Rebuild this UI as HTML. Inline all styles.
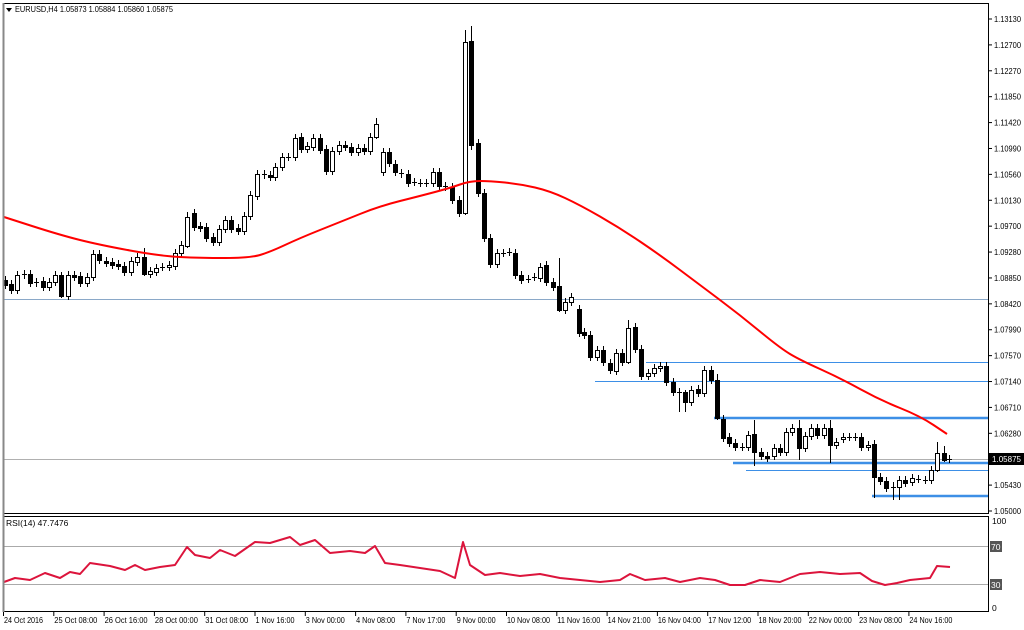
<!DOCTYPE html>
<html><head><meta charset="utf-8"><style>
html,body{margin:0;padding:0;background:#fff;width:1024px;height:630px;overflow:hidden}
svg{display:block;font-family:"Liberation Sans",sans-serif;font-size:8.5px}
</style></head><body>
<svg id="s" width="1024" height="630" viewBox="0 0 1024 630" xmlns="http://www.w3.org/2000/svg">
<rect width="1024" height="630" fill="#fff"/>
<g id="grid"></g>
<g id="c"></g>
<g id="ax"></g>
</svg>
<script>
var NS="http://www.w3.org/2000/svg";
function el(p,t,a,txt){var e=document.createElementNS(NS,t);for(var k in a)e.setAttribute(k,a[k]);if(txt!=null)e.textContent=txt;p.appendChild(e);return e;}
var G=document.getElementById('grid'),C=document.getElementById('c'),A=document.getElementById('ax');
el(A,'rect',{x:3.5,y:3.5,width:985,height:510,fill:'none',stroke:'#000','stroke-width':1});
el(A,'rect',{x:3.5,y:516.5,width:985,height:95,fill:'none',stroke:'#000','stroke-width':1});
el(A,'line',{x1:3.5,y1:3,x2:3.5,y2:612,stroke:'#888','stroke-width':2});
el(A,'path',{d:'M6 8 L12 8 L9 12 Z',fill:'#000'});
el(A,'text',{x:15,y:12,fill:'#000',textLength:158,lengthAdjust:'spacingAndGlyphs'},'EURUSD,H4  1.05873 1.05884 1.05860 1.05875');
var labs=['1.13130','1.12700','1.12270','1.11850','1.11420','1.10990','1.10560','1.10130','1.09700','1.09280','1.08850','1.08420','1.07990','1.07570','1.07140','1.06710','1.06280','','1.05430','1.05000'];
for(var i=0;i<labs.length;i++){var y=19+i*(492/19);if(!labs[i])continue;
el(A,'line',{x1:988,y1:y,x2:992,y2:y,stroke:'#000'});
el(A,'text',{x:994,y:y+3,fill:'#000',textLength:27,lengthAdjust:'spacingAndGlyphs'},labs[i]);}
el(G,'line',{x1:4,y1:299.5,x2:988,y2:299.5,stroke:'#8aa8c8','stroke-width':1});
el(G,'line',{x1:4,y1:459.5,x2:988,y2:459.5,stroke:'#b0b0b0','stroke-width':1});
el(G,'line',{x1:646,y1:362.5,x2:988,y2:362.5,stroke:'#3d8fe6','stroke-width':1});
el(G,'line',{x1:595,y1:381.5,x2:988,y2:381.5,stroke:'#3d8fe6','stroke-width':1});
el(G,'line',{x1:714,y1:418,x2:988,y2:418,stroke:'#3d8fe6','stroke-width':2.5});
el(G,'line',{x1:733,y1:463,x2:988,y2:463,stroke:'#3d8fe6','stroke-width':2.5});
el(G,'line',{x1:746,y1:470.5,x2:988,y2:470.5,stroke:'#3d8fe6','stroke-width':1});
el(G,'line',{x1:872,y1:496,x2:988,y2:496,stroke:'#3d8fe6','stroke-width':2.5});
el(A,'rect',{x:989,y:453,width:35,height:12,fill:'#000'});
el(A,'text',{x:992,y:462,fill:'#fff',textLength:29,lengthAdjust:'spacingAndGlyphs'},'1.05875');
var d=[[3,280,285],[9,284,290],[15,290,275],[22,274,275],[28,274,283],[34,282,283],[41,281,287],[47,287,282],[53,282,275],[59,275,296],[66,296,275],[72,275,277],[78,276,283],[85,283,277],[91,277,254],[97,254,260],[104,261,263],[110,262,265],[116,264,266],[122,266,272],[129,272,261],[135,262,257],[142,257,274],[148,274,271],[154,272,268],[160,267,267],[167,267,265],[173,266,253],[179,253,245],[185,246,217],[192,213,227],[198,226,228],[204,227,238],[211,237,242],[217,242,229],[223,229,220],[229,220,229],[236,228,231],[242,231,216],[248,216,195],[255,196,174],[262,174,175],[268,175,177],[273,177,167],[280,167,157],[286,157,157],[293,157,138],[299,137,149],[305,149,146],[311,147,138],[318,138,150],[324,149,171],[330,171,151],[337,151,145],[343,145,147],[349,147,152],[356,152,148],[362,148,151],[368,151,137],[374,137,124],[381,172,152],[387,152,163],[393,164,172],[399,173,174],[406,174,183],[412,182,182],[418,183,183],[424,183,183],[431,183,172],[437,172,186],[443,186,187],[450,187,200],[457,200,213],[463,213,42],[469,41,145],[476,143,193],[482,193,238],[488,238,264],[495,264,253],[501,253,253],[507,252,252],[513,253,275],[519,275,280],[526,279,279],[532,277,277],[538,278,267],[544,265,282],[551,282,287],[557,286,310],[563,310,302],[569,302,297],[577,309,333],[582,332,335],[588,335,357],[595,357,350],[601,350,362],[608,363,370],[614,371,353],[620,353,362],[626,362,328],[633,327,349],[639,349,376],[646,376,373],[652,373,368],[658,368,366],[664,366,382],[671,382,392],[677,392,392],[683,392,402],[689,402,390],[696,389,393],[702,393,370],[709,370,380],[715,380,418],[721,419,438],[727,437,443],[733,443,447],[740,447,447],[746,447,435],[752,434,452],[759,452,456],[765,456,458],[772,456,448],[778,448,452],[784,452,432],[790,432,428],[797,428,448],[803,448,436],[809,436,428],[815,428,435],[822,435,428],[828,428,445],[834,445,442],[841,439,437],[847,437,437],[853,437,437],[859,437,447],[866,447,445],[872,444,477],[878,477,481],[884,481,488],[891,487,487],[897,487,480],[903,480,483],[910,482,478],[916,479,479],[923,480,480],[929,480,470],[935,470,453],[942,453,460],[947,459,459]];
var wk={463:[30,215],469:[26,150],557:[258,312],626:[320,364],677:[388,412],683:[390,412],59:[272,298],142:[248,276],185:[212,248],374:[118,139],381:[148,176],715:[374,420],872:[440,498],891:[482,500],897:[476,500],935:[442,472],942:[446,462],828:[420,463],797:[420,460],752:[420,466]};
d.forEach(function(c){var x=c[0]+2.5,o=c[1],cl=c[2],t=Math.min(o,cl),b=Math.max(o,cl);
var w=wk[c[0]]||[t-4,b+4];
el(C,'line',{x1:x,y1:w[0],x2:x,y2:w[1],stroke:'#000','stroke-width':1});
var h=Math.max(b-t,1);
if(cl<o) el(C,'rect',{x:x-2,y:t+0.5,width:4,height:h,fill:'#fff',stroke:'#000','stroke-width':1});
else if(b-t<=1) el(C,'line',{x1:x-2.5,y1:t+0.5,x2:x+2.5,y2:t+0.5,stroke:'#000'});
else el(C,'rect',{x:x-2.5,y:t,width:5,height:h+1,fill:'#000'});
});
function smooth(pts){var s='M'+pts[0][0]+','+pts[0][1];for(var i=1;i<pts.length;i++){var p0=pts[i-1],p1=pts[i];var mx=(p0[0]+p1[0])/2,my=(p0[1]+p1[1])/2;s+=' Q'+p0[0]+','+p0[1]+' '+mx+','+my;}s+=' L'+pts[pts.length-1].join(',');return s;}
var ma=[[4,217],[60,235],[100,245],[160,256],[200,258],[250,258],[270,252],[300,238],[340,222],[380,206],[420,196],[450,188],[470,181],[490,181],[520,184],[550,191],[580,205],[620,228],[660,255],[700,285],[740,315],[780,348],[800,360],[840,378],[880,400],[920,416],[947,434]];
el(C,'path',{d:smooth(ma),fill:'none',stroke:'#f00','stroke-width':2});
el(G,'line',{x1:4,y1:546.5,x2:988,y2:546.5,stroke:'#aaa'});
el(G,'line',{x1:4,y1:584.5,x2:988,y2:584.5,stroke:'#aaa'});
el(A,'text',{x:6,y:526,fill:'#000'},'RSI(14) 47.7476');
el(A,'text',{x:992,y:524,fill:'#000'},'100');
el(A,'rect',{x:990,y:541,width:12,height:11,fill:'#555'});
el(A,'text',{x:991,y:550,fill:'#fff'},'70');
el(A,'rect',{x:990,y:579,width:12,height:11,fill:'#555'});
el(A,'text',{x:991,y:588,fill:'#fff'},'30');
el(A,'text',{x:992,y:611,fill:'#000'},'0');
var r=[[4,582],[15,578],[30,580],[45,573],[60,578],[70,572],[80,574],[90,563],[110,566],[125,570],[135,565],[145,570],[160,567],[175,565],[187,547],[195,555],[210,558],[220,550],[235,556],[255,542],[270,543],[290,537],[300,545],[315,540],[330,553],[350,551],[365,553],[375,546],[385,563],[400,565],[420,568],[440,571],[455,578],[463,542],[470,565],[485,575],[500,573],[520,576],[540,574],[560,578],[580,580],[600,582],[620,580],[630,574],[645,580],[665,578],[680,582],[700,578],[715,580],[730,585],[745,585],[760,580],[780,582],[800,574],[820,572],[840,574],[860,573],[872,581],[885,585],[897,583],[910,580],[930,578],[937,566],[950,567]];
el(C,'polyline',{points:r.map(function(p){return p.join(',')}).join(' '),fill:'none',stroke:'#dc143c','stroke-width':2,'stroke-linejoin':'round'});
var tl=['24 Oct 2016','25 Oct 08:00','26 Oct 16:00','28 Oct 00:00','31 Oct 08:00','1 Nov 16:00','3 Nov 00:00','4 Nov 08:00','7 Nov 17:00','9 Nov 00:00','10 Nov 08:00','11 Nov 16:00','14 Nov 21:00','16 Nov 04:00','17 Nov 12:00','18 Nov 20:00','22 Nov 00:00','23 Nov 08:00','24 Nov 16:00'];
tl.forEach(function(t,i){var x=3+i*50.3;
el(A,'line',{x1:x+0.5,y1:612,x2:x+0.5,y2:616,stroke:'#000'});
var L=t.length>=12?43:39;
el(A,'text',{x:x+1,y:623,fill:'#000',textLength:L,lengthAdjust:'spacingAndGlyphs'},t);});
</script>
</body></html>
